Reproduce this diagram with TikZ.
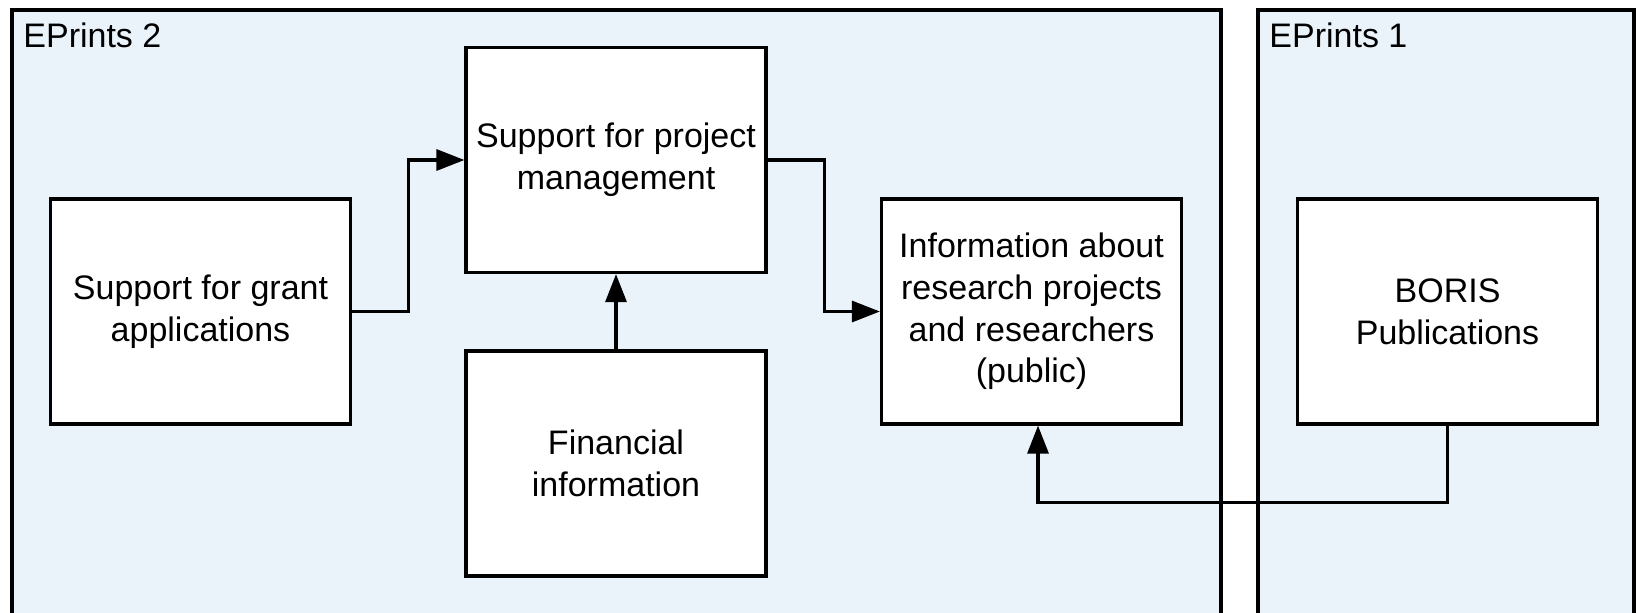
\documentclass[tikz,border=0pt]{standalone}
\usepackage{fontspec}
\setmainfont{Liberation Sans}
\usetikzlibrary{arrows.meta,calc}
\definecolor{groupfill}{HTML}{EBF3FA}
\begin{document}
\begin{tikzpicture}[x=0.5pt,y=-0.5pt,
  every node/.style={font=\fontsize{17}{20.8}\selectfont},
  group/.style={draw=black,line width=1.6pt,fill=groupfill},
  grouplabel/.style={anchor=base west,inner sep=0pt},
  box/.style={draw=black,line width=1.6pt,fill=white,minimum width=150pt,minimum height=112.5pt,inner sep=0pt,align=center},
  conn/.style={draw=black,line width=1.6pt,-{Triangle[length=14pt,width=10.5pt]}}]
\useasboundingbox (0,0) rectangle (1636,612);
\fill[white] (0,0) rectangle (1636,612);
% containers
\draw[group] (12,10) rectangle (1221,660);
\draw[group] (1258,10) rectangle (1634,660);
\node[grouplabel] (lab2) at (23,47) {EPrints 2};
\node[grouplabel] (lab1) at (1269,47) {EPrints 1};
% boxes
\node[box] (grant) at (200.5,311.5) {Support for grant\\applications};
\node[box] (pm) at (616,160) {Support for project\\management};
\node[box] (fin) at (616,463.5) {Financial\\information};
\node[box] (info) at (1031.5,311.5) {Information about\\research projects\\and researchers\\(public)};
\node[box] (boris) at (1447.5,311.5) {BORIS\\Publications};
% connectors
\draw[conn] (grant.east) -- ++(56,0) |- (pm.west);
\draw[conn] (pm.east) -- ++(57,0) |- (info.west);
\draw[conn] (fin.north) -- (pm.south);
\draw[conn] (boris.south) -- ++(0,77) -| ([xshift=3.25pt]info.south);
\end{tikzpicture}
\end{document}
